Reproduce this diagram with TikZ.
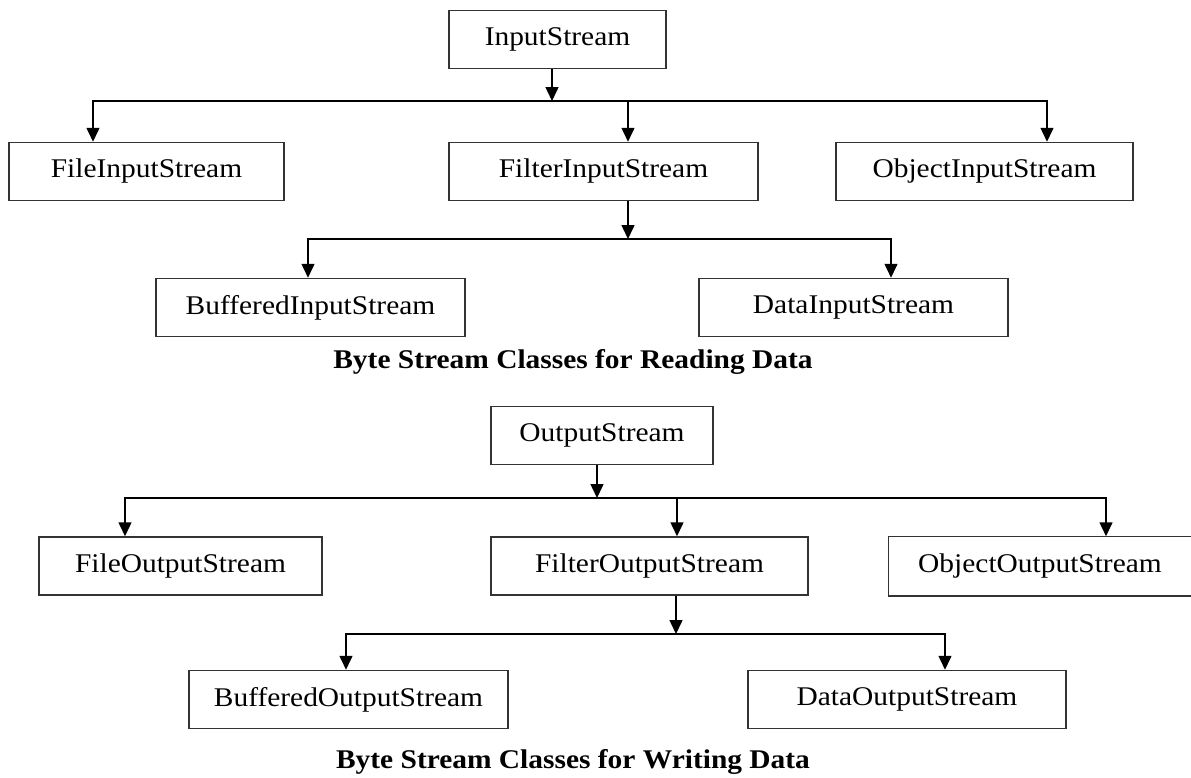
\documentclass[tikz,border=0pt]{standalone}
\usepackage{fontspec}
\setmainfont{Liberation Serif}[FakeStretch=1.09]
\usetikzlibrary{positioning, arrows.meta}

\tikzset{
  cls/.style={draw=black!80, line width=1.5pt, minimum height=58pt, inner sep=0pt,
    font=\fontsize{27}{32}\selectfont},
  arr/.style={-{Triangle[length=14pt,width=13pt]}, line width=1.5pt},
  capt/.style={anchor=base, inner sep=0pt, font=\bfseries\fontsize{27}{32}\selectfont}
}

\begin{document}
\begin{tikzpicture}[x=1pt, y=-1pt]
\useasboundingbox (0,0) rectangle (1191,777);

% reading side
\node[cls, minimum width=217pt] (in) at (557.5,39.5) {InputStream};
\node[cls, minimum width=275pt] (fin) at (146.5,171.5) {FileInputStream};
\node[cls, minimum width=309pt] (filin) at (603.5,171.5) {FilterInputStream};
\node[cls, minimum width=297pt] (oin) at (984.5,171.5) {ObjectInputStream};
\node[cls, minimum width=309pt] (bin) at (310.5,307.5) {BufferedInputStream};
\node[cls, minimum width=309pt] (din) at (853.5,307.5) {DataInputStream};
\node[capt] (rcap) at (573,368) {Byte Stream Classes for Reading Data};

\coordinate (inbar) at (552,101);
\coordinate (inL) at (93,101);
\coordinate (inM) at (628,101);
\coordinate (inR) at (1047,101);
\draw[arr] (in.south -| inbar) -- (inbar);
\draw[arr] (inR) -- (inL) -- (inL |- fin.north);
\draw[arr] (inL) -- (inR) -- (inR |- oin.north);
\draw[arr] (inM) -- (inM |- filin.north);

\coordinate (filbar) at (628,239);
\coordinate (filL) at (308,239);
\coordinate (filR) at (891,239);
\draw[arr] (filin.south -| filbar) -- (filbar);
\draw[arr] (filR) -- (filL) -- (filL |- bin.north);
\draw[arr] (filL) -- (filR) -- (filR |- din.north);

% writing side
\node[cls, minimum width=222pt] (out) at (602,435.5) {OutputStream};
\node[cls, minimum width=283pt] (fout) at (180.5,566) {FileOutputStream};
\node[cls, minimum width=317pt] (filout) at (649.5,566) {FilterOutputStream};
\node[cls, draw=none, minimum width=302pt] (oout) at (1040,566) {ObjectOutputStream};
\draw[draw=black!80, line width=1.5pt] (oout.north east) -- (oout.north west)
  -- (oout.south west) -- (oout.south east);
\node[cls, minimum width=319pt] (bout) at (348.5,699.5) {BufferedOutputStream};
\node[cls, minimum width=318pt] (dout) at (907,699.5) {DataOutputStream};
\node[capt] (wcap) at (573,768) {Byte Stream Classes for Writing Data};

\coordinate (outbar) at (597,498);
\coordinate (outL) at (125,498);
\coordinate (outM) at (677,498);
\coordinate (outR) at (1106,498);
\draw[arr] (out.south -| outbar) -- (outbar);
\draw[arr] (outR) -- (outL) -- (outL |- fout.north);
\draw[arr] (outL) -- (outR) -- (outR |- oout.north);
\draw[arr] (outM) -- (outM |- filout.north);

\coordinate (foutbar) at (676,634);
\coordinate (foutL) at (346,634);
\coordinate (foutR) at (945,634);
\draw[arr] (filout.south -| foutbar) -- (foutbar);
\draw[arr] (foutR) -- (foutL) -- (foutL |- bout.north);
\draw[arr] (foutL) -- (foutR) -- (foutR |- dout.north);
\end{tikzpicture}
\end{document}
